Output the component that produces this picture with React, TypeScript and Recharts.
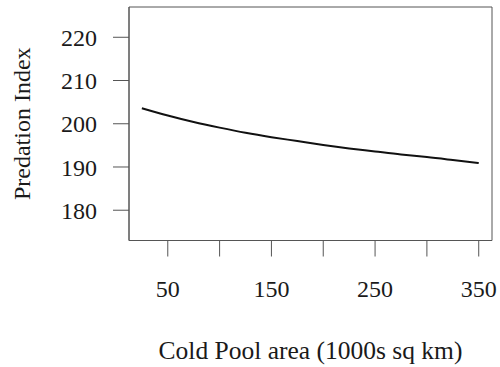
import React from 'react';
import { LineChart, Line, XAxis, YAxis, ReferenceArea, Label } from 'recharts';

// Cold Pool area (1000s sq km) and fitted predation index
const area = [25, 50, 75, 100, 125, 150, 175, 200, 225, 250, 275, 300, 325, 350];
const predation = [203.6, 201.9, 200.4, 199.1, 197.9, 196.9, 196.0, 195.1, 194.3, 193.6, 192.9, 192.3, 191.6, 190.9];

const xTicks = [50, 100, 150, 200, 250, 300, 350];
const xLabelled = [50, 150, 250, 350];
const yTicks = [180, 190, 200, 210, 220];

const xDomain: [number, number] = [12.6, 362.8];
const yDomain: [number, number] = [173, 227];

const data = area.map((a, i) => ({ area: a, index: predation[i] }));

const FONT = '"Liberation Serif", "Times New Roman", serif';
const AXIS = '#555';
const TEXT = '#1a1a1a';

const App: React.FC = () => {
  return (
    <div style={{ position: 'absolute', left: 0, top: 0, background: '#fff' }}>
      <LineChart
        width={500}
        height={367}
        data={data}
        margin={{ top: 7, right: 8, left: 0, bottom: 0 }}
      >
        <XAxis
          dataKey="area"
          type="number"
          domain={xDomain}
          ticks={xTicks}
          interval={0}
          allowDataOverflow
          height={126.5}
          tickSize={16}
          tickMargin={23}
          stroke={AXIS}
          tickLine={{ stroke: AXIS }}
          tick={{ fill: TEXT, fontSize: 24, fontFamily: FONT }}
          tickFormatter={(v) => (xLabelled.includes(v) ? String(v) : '')}
        >
          <Label
            content={({ viewBox }: any) => (
              <text
                x={viewBox.x + viewBox.width / 2}
                y={359}
                textAnchor="middle"
                fontSize={25.5}
                fontFamily={FONT}
                fill={TEXT}
              >
                Cold Pool area (1000s sq km)
              </text>
            )}
          />
        </XAxis>
        <YAxis
          type="number"
          domain={yDomain}
          ticks={yTicks}
          interval={0}
          allowDataOverflow
          width={129}
          tickSize={16}
          tickMargin={16}
          stroke={AXIS}
          tickLine={{ stroke: AXIS }}
          tick={{ fill: TEXT, fontSize: 24, fontFamily: FONT }}
        >
          <Label
            content={({ viewBox }: any) => {
              const cx = 22;
              const cy = viewBox.y + viewBox.height / 2;
              return (
                <text
                  x={cx}
                  y={cy}
                  transform={`rotate(-90 ${cx} ${cy})`}
                  textAnchor="middle"
                  dominantBaseline="central"
                  fontSize={24}
                  fontFamily={FONT}
                  fill={TEXT}
                >
                  Predation Index
                </text>
              );
            }}
          />
        </YAxis>
        <ReferenceArea
          x1={xDomain[0]}
          x2={xDomain[1]}
          y1={yDomain[0]}
          y2={yDomain[1]}
          fill="none"
          stroke={AXIS}
          strokeWidth={1}
          fillOpacity={0}
        />
        <Line
          type="natural"
          dataKey="index"
          stroke="#111"
          strokeWidth={2}
          dot={false}
          isAnimationActive={false}
        />
      </LineChart>
    </div>
  );
};

export default App;
